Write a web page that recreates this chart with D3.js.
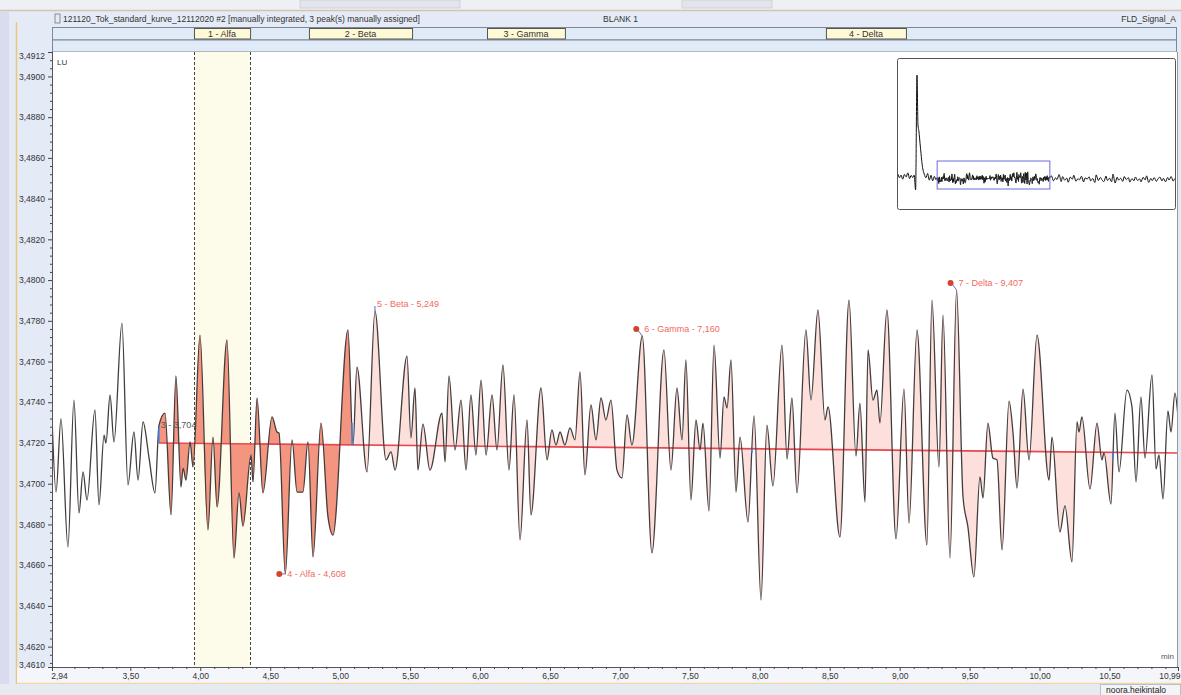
<!DOCTYPE html>
<html>
<head>
<meta charset="utf-8">
<script src="https://cdn.jsdelivr.net/npm/d3@7"></script>
<style>
  html, body { margin: 0; padding: 0; background: #e4ebf6; }
  svg { display: block; font-family: "Liberation Sans", Arial, sans-serif; }
</style>
</head>
<body>
<svg id="chart" width="1181" height="695"></svg>
<script>
// ---- Chromatogram trace (retention time in min, signal in LU), turning points of the FLD signal
const timeMin = [
  2.940, 2.969, 3.004, 3.054, 3.097, 3.133, 3.162, 3.190, 3.247, 3.276,
  3.312, 3.326, 3.355, 3.383, 3.440, 3.483, 3.526, 3.555, 3.591, 3.633,
  3.676, 3.705, 3.748, 3.791, 3.826, 3.862, 3.877, 3.898, 3.927, 3.948,
  3.998, 4.055, 4.091, 4.120, 4.191, 4.241, 4.277, 4.305, 4.363, 4.377,
  4.406, 4.448, 4.513, 4.549, 4.563, 4.608, 4.656, 4.692, 4.734, 4.770,
  4.806, 4.863, 4.913, 4.949, 5.056, 5.092, 5.120, 5.192, 5.249, 5.328,
  5.364, 5.392, 5.478, 5.506, 5.535, 5.556, 5.592, 5.642, 5.728, 5.750,
  5.778, 5.821, 5.864, 5.900, 5.935, 5.971, 6.007, 6.043, 6.086, 6.121,
  6.164, 6.207, 6.243, 6.286, 6.336, 6.364, 6.436, 6.479, 6.514, 6.543,
  6.572, 6.607, 6.643, 6.679, 6.715, 6.750, 6.793, 6.829, 6.865, 6.900,
  6.936, 6.979, 7.015, 7.051, 7.086, 7.160, 7.229, 7.315, 7.365, 7.408,
  7.444, 7.472, 7.508, 7.544, 7.573, 7.594, 7.637, 7.673, 7.716, 7.744,
  7.766, 7.794, 7.830, 7.859, 7.916, 7.959, 8.009, 8.051, 8.094, 8.159,
  8.195, 8.230, 8.266, 8.330, 8.366, 8.416, 8.466, 8.488, 8.573, 8.638,
  8.688, 8.716, 8.752, 8.774, 8.809, 8.838, 8.859, 8.909, 8.974, 9.031,
  9.067, 9.124, 9.195, 9.231, 9.281, 9.310, 9.360, 9.407, 9.453, 9.488,
  9.531, 9.574, 9.596, 9.631, 9.667, 9.696, 9.732, 9.782, 9.810, 9.839,
  9.882, 9.925, 9.982, 10.068, 10.089, 10.146, 10.182, 10.232, 10.268, 10.282,
  10.303, 10.361, 10.411, 10.446, 10.461, 10.511, 10.539, 10.568, 10.625, 10.661,
  10.690, 10.725, 10.754, 10.804, 10.833, 10.854, 10.883, 10.918, 10.940, 10.968,
  10.990
];
const signalLU = [
  3.47328, 3.46959, 3.47318, 3.46689, 3.47411, 3.46856, 3.47058, 3.46920, 3.47362, 3.46896,
  3.47239, 3.47200, 3.47436, 3.47205, 3.47789, 3.46994, 3.47254, 3.47018, 3.47303, 3.47131,
  3.46955, 3.47288, 3.47347, 3.46847, 3.47529, 3.46984, 3.47077, 3.47018, 3.47205, 3.47082,
  3.47730, 3.46773, 3.47229, 3.46886, 3.47706, 3.46635, 3.46955, 3.46792, 3.47141, 3.47009,
  3.47421, 3.46955, 3.47328, 3.47254, 3.47249, 3.46557, 3.47215, 3.46959, 3.46959, 3.47205,
  3.46640, 3.47298, 3.46837, 3.46748, 3.47755, 3.47190, 3.47573, 3.47058, 3.47848, 3.47117,
  3.47156, 3.47067, 3.47627, 3.47225, 3.47470, 3.47067, 3.47293, 3.47067, 3.47347, 3.47107,
  3.47529, 3.47166, 3.47411, 3.47067, 3.47436, 3.47141, 3.47509, 3.47141, 3.47436, 3.47166,
  3.47583, 3.47067, 3.47436, 3.46724, 3.47313, 3.46847, 3.47470, 3.47117, 3.47264, 3.47190,
  3.47254, 3.47190, 3.47274, 3.47215, 3.47549, 3.47043, 3.47387, 3.47215, 3.47421, 3.47313,
  3.47411, 3.47067, 3.47028, 3.47338, 3.47190, 3.47725, 3.46660, 3.47657, 3.47067, 3.47470,
  3.47215, 3.47608, 3.46920, 3.47313, 3.47166, 3.47298, 3.46866, 3.47681, 3.47126, 3.47426,
  3.47372, 3.47608, 3.46959, 3.47229, 3.46812, 3.47333, 3.46429, 3.47288, 3.46989, 3.47681,
  3.47121, 3.47421, 3.46955, 3.47755, 3.47411, 3.47853, 3.47313, 3.47377, 3.46738, 3.47902,
  3.47136, 3.47396, 3.46910, 3.47657, 3.47411, 3.47460, 3.47298, 3.47853, 3.46729, 3.47465,
  3.46807, 3.47755, 3.46699, 3.47902, 3.47082, 3.47828, 3.46635, 3.47951, 3.46935, 3.46788,
  3.46542, 3.47033, 3.46930, 3.47298, 3.47126, 3.47117, 3.46675, 3.47406, 3.47254, 3.46979,
  3.47465, 3.47117, 3.47730, 3.47018, 3.47229, 3.46763, 3.46891, 3.46616, 3.47303, 3.47254,
  3.47328, 3.46974, 3.47298, 3.47117, 3.47151, 3.46900, 3.47347, 3.47058, 3.47460, 3.47377,
  3.47009, 3.47426, 3.47126, 3.47534, 3.47072, 3.47141, 3.46925, 3.47357, 3.47254, 3.47445,
  3.47328
];

// ---- Full-run overview (inset): before and after the zoomed window
const preTime = [0.00, 0.12, 0.25, 0.36, 0.48, 0.60, 0.72, 0.85, 0.97, 1.08, 1.20, 1.30, 1.40, 1.50, 1.57, 1.63, 1.75, 1.90, 2.02, 2.14, 2.26, 2.38, 2.50, 2.62, 2.74, 2.85];
const preSignal = [3.4745, 3.4772, 3.4731, 3.4760, 3.4716, 3.4768, 3.4740, 3.4784, 3.4722, 3.4757, 3.4733, 3.4760, 3.4600, 3.5840, 3.5300, 3.5240, 3.5050, 3.4840, 3.4770, 3.4732, 3.4778, 3.4705, 3.4758, 3.4699, 3.4746, 3.4712];
const postTime = [11.1, 11.25, 11.4, 11.5, 11.65, 11.8, 11.9, 12.05, 12.2, 12.3, 12.45, 12.6, 12.7, 12.85, 13.0, 13.1, 13.25, 13.4, 13.5, 13.65, 13.8, 13.9, 14.05, 14.2, 14.3, 14.45, 14.6, 14.7, 14.85, 15.0, 15.1, 15.25, 15.4, 15.5, 15.65, 15.8, 15.9, 16.05, 16.2, 16.3, 16.45, 16.6, 16.7, 16.85, 17.0, 17.1, 17.25, 17.4, 17.5, 17.65, 17.8, 17.9, 18.05, 18.2, 18.3, 18.45, 18.6, 18.7, 18.85, 19.0, 19.1, 19.25, 19.4, 19.5, 19.65, 19.8, 19.9, 20.0];
const postSignal = [
  3.4752, 3.4698, 3.4731, 3.4712, 3.4766, 3.4690, 3.4744, 3.4705, 3.4728, 3.4683,
  3.4739, 3.4716, 3.4758, 3.4694, 3.4722, 3.4709, 3.4747, 3.4686, 3.4730, 3.4718,
  3.4741, 3.4697, 3.4724, 3.4680, 3.4762, 3.4701, 3.4735, 3.4712, 3.4690, 3.4749,
  3.4702, 3.4727, 3.4688, 3.4771, 3.4675, 3.4738, 3.4706, 3.4726, 3.4692, 3.4745,
  3.4711, 3.4733, 3.4684, 3.4722, 3.4699, 3.4740, 3.4703, 3.4719, 3.4687, 3.4736,
  3.4708, 3.4752, 3.4681, 3.4724, 3.4700, 3.4733, 3.4692, 3.4716, 3.4739, 3.4697,
  3.4725, 3.4688, 3.4734, 3.4706, 3.4744, 3.4695, 3.4718, 3.4712
];

// ---- Peaks, integration and named windows
const peakNames = ["3", "4 - Alfa", "5 - Beta", "6 - Gamma", "7 - Delta"];
const peakRT = [3.704, 4.608, 5.249, 7.160, 9.407];
const windowNames = ["1 - Alfa", "2 - Beta", "3 - Gamma", "4 - Delta"];
const windowStart = [3.955, 4.777, 6.050, 8.473];
const windowEnd = [4.356, 5.514, 6.607, 9.045];
const baselineTime = [3.704, 10.99];
const baselineLU = [3.4720, 3.47151];
const boundaryTime = [3.704, 5.085, 7.944, 10.525];

// ---- Axis ticks
const yMajorTicks = [3.4610, 3.4620, 3.4640, 3.4660, 3.4680, 3.4700, 3.4720, 3.4740, 3.4760, 3.4780, 3.4800, 3.4820, 3.4840, 3.4860, 3.4880, 3.4900, 3.4912];
const xMajorTicks = [2.94, 3.5, 4.0, 4.5, 5.0, 5.5, 6.0, 6.5, 7.0, 7.5, 8.0, 8.5, 9.0, 9.5, 10.0, 10.5, 10.99];

const headerTitle = "121120_Tok_standard_kurve_12112020 #2 [manually integrated, 3 peak(s) manually assigned]";
const sampleName = "BLANK 1";
const signalName = "FLD_Signal_A";
const userName = "noora.heikintalo";

// ---------------------------------------------------------------------------
const svg = d3.select("#chart");
const W = 1181, H = 695;
const P = { left: 52, right: 1178, top: 52, bottom: 667 };

const x = d3.scaleLinear().domain([2.94, 10.99]).range([P.left, P.right]);
const y = d3.scaleLinear().domain([3.4610, 3.4912]).range([P.bottom, P.top]);
const base = d3.scaleLinear().domain(baselineTime).range(baselineLU);
const comma = (v, d) => v.toFixed(d).replace(".", ",");

const trace = timeMin.map((t, i) => ({ t, v: signalLU[i] }));

// Application frame
svg.append("rect").attr("width", W).attr("height", H).attr("fill", "#e4ebf6");
svg.append("rect").attr("x", 0).attr("y", 0).attr("width", W).attr("height", 10).attr("fill", "#eef0f3");
svg.append("rect").attr("x", 300).attr("y", 0).attr("width", 160).attr("height", 8).attr("fill", "#e2e5ea").attr("stroke", "#cfd3da");
svg.append("rect").attr("x", 682).attr("y", 0).attr("width", 90).attr("height", 8).attr("fill", "#e2e5ea").attr("stroke", "#cfd3da");
svg.append("line").attr("x1", 0).attr("x2", W).attr("y1", 10.5).attr("y2", 10.5).attr("stroke", "#d2c3b2").attr("stroke-width", 1.5);
svg.append("rect").attr("x", 0).attr("y", 11).attr("width", 9).attr("height", 674).attr("fill", "#d9dcef");
svg.append("line").attr("x1", 16.5).attr("x2", 16.5).attr("y1", 22).attr("y2", 684).attr("stroke", "#e9c67c").attr("stroke-width", 1.5);
svg.append("rect").attr("x", 17).attr("y", 667).attr("width", W - 17).attr("height", 16).attr("fill", "#f4f6fb");
svg.append("line").attr("x1", 17).attr("x2", W).attr("y1", 683.5).attr("y2", 683.5).attr("stroke", "#eed9a0").attr("stroke-width", 1.5);
svg.append("rect").attr("x", 0).attr("y", 684).attr("width", W).attr("height", 11).attr("fill", "#e7eaf0");

// Header line
svg.append("rect").attr("x", 55).attr("y", 14).attr("width", 5).attr("height", 9).attr("fill", "none").attr("stroke", "#777").attr("stroke-width", 0.8);
svg.append("text").attr("x", 63).attr("y", 22).attr("font-size", 8.5).attr("fill", "#333").text(headerTitle);
svg.append("text").attr("x", 603).attr("y", 22).attr("font-size", 8.5).attr("fill", "#333").text(sampleName);
svg.append("text").attr("x", 1176).attr("y", 22).attr("font-size", 8.5).attr("fill", "#333").attr("text-anchor", "end").text(signalName);

// Peak window bands
svg.append("rect").attr("x", P.left + 0.5).attr("y", 27.5).attr("width", 1124).attr("height", 12.5).attr("fill", "#e1eaf7").attr("stroke", "#7c8797");
svg.append("rect").attr("x", P.left + 0.5).attr("y", 40).attr("width", 1124).attr("height", 12).attr("fill", "#e1eaf7").attr("stroke", "#7c8797");
windowNames.forEach((name, i) => {
  const x0 = x(windowStart[i]), x1 = x(windowEnd[i]);
  svg.append("rect").attr("x", x0 + 0.5).attr("y", 28.5).attr("width", x1 - x0).attr("height", 10.5)
    .attr("fill", "#fffad6").attr("stroke", "#555").attr("stroke-width", 1);
  svg.append("text").attr("x", (x0 + x1) / 2).attr("y", 37).attr("text-anchor", "middle")
    .attr("font-size", 9).attr("fill", "#333").text(name);
});

// Plot area
svg.append("rect").attr("x", P.left).attr("y", P.top).attr("width", P.right - P.left).attr("height", P.bottom - P.top).attr("fill", "#ffffff");
svg.append("clipPath").attr("id", "plotClip").append("rect")
  .attr("x", P.left).attr("y", P.top).attr("width", P.right - P.left).attr("height", P.bottom - P.top);
const plot = svg.append("g").attr("clip-path", "url(#plotClip)");

// Alfa window highlight
plot.append("rect").attr("x", x(windowStart[0])).attr("y", P.top).attr("width", x(windowEnd[0]) - x(windowStart[0]))
  .attr("height", P.bottom - P.top).attr("fill", "#fdfbea");
[windowStart[0], windowEnd[0]].forEach(t => {
  plot.append("line").attr("x1", Math.round(x(t)) + 0.5).attr("x2", Math.round(x(t)) + 0.5).attr("y1", P.top).attr("y2", P.bottom)
    .attr("stroke", "#444").attr("stroke-width", 1).attr("stroke-dasharray", "3,2");
});

// Integrated areas between trace and baseline
const areaGen = d3.area().curve(d3.curveMonotoneX)
  .x(d => x(d.t)).y0(d => y(base(d.t))).y1(d => y(d.v));
const fills = [
  { id: "fillA", t0: boundaryTime[0], t1: boundaryTime[1], color: "#f4957f" },
  { id: "fillB", t0: boundaryTime[1], t1: boundaryTime[3], color: "#fde0db" }
];
fills.forEach(f => {
  svg.append("clipPath").attr("id", f.id).append("rect")
    .attr("x", x(f.t0)).attr("y", P.top).attr("width", x(f.t1) - x(f.t0)).attr("height", P.bottom - P.top);
  plot.append("g").attr("clip-path", `url(#${f.id})`).append("path")
    .datum(trace).attr("d", areaGen).attr("fill", f.color);
});

// Baseline
plot.append("line")
  .attr("x1", x(baselineTime[0])).attr("y1", y(baselineLU[0]))
  .attr("x2", x(baselineTime[1])).attr("y2", y(baselineLU[1]))
  .attr("stroke", "#e8474f").attr("stroke-width", 1.6);

// Signal trace
const lineGen = d3.line().curve(d3.curveMonotoneX).x(d => x(d.t)).y(d => y(d.v));
plot.append("path").datum(trace).attr("d", lineGen)
  .attr("fill", "none").attr("stroke", "#433d3d").attr("stroke-width", 1.3).attr("stroke-linejoin", "round");

// Integration boundary marks
const signalAt = t => {
  const i = d3.bisectLeft(timeMin, t);
  const a = trace[Math.max(0, i - 1)], b = trace[Math.min(trace.length - 1, i)];
  return a.t === b.t ? a.v : a.v + (b.v - a.v) * (t - a.t) / (b.t - a.t);
};
boundaryTime.forEach(t => {
  plot.append("line").attr("x1", x(t)).attr("x2", x(t))
    .attr("y1", y(base(t))).attr("y2", y(signalAt(t)))
    .attr("stroke", "#3f7ee8").attr("stroke-width", 1.5);
});

// Peak labels
peakNames.forEach((name, i) => {
  const rt = peakRT[i];
  const idx = d3.minIndex(timeMin, t => Math.abs(t - rt));
  const px = x(rt), py = y(signalLU[idx]);
  const isMin = signalLU[idx] < base(rt);
  const ly = isMin ? py : py - 7;
  const label = `${name} - ${comma(rt, 3)}`;
  if (i === 0) {
    plot.append("text").attr("x", px + 2).attr("y", py + 3).attr("font-size", 9).attr("fill", "#555").text(label);
    return;
  }
  if (i === 2) {
    plot.append("line").attr("x1", px).attr("x2", px).attr("y1", py).attr("y2", py - 5).attr("stroke", "#4a6fd8").attr("stroke-width", 1);
  } else {
    plot.append("line").attr("x1", px - 5).attr("y1", ly).attr("x2", px).attr("y2", py).attr("stroke", "#7a6fb0").attr("stroke-width", 1);
    plot.append("circle").attr("cx", px - 6).attr("cy", ly).attr("r", 3).attr("fill", "#d4432f");
  }
  plot.append("text").attr("x", px + 2).attr("y", ly + 3).attr("font-size", 9).attr("fill", "#ef6a5f").text(label);
});

// Unit labels
svg.append("text").attr("x", 57).attr("y", 65).attr("font-size", 8).attr("fill", "#333").text("LU");
svg.append("text").attr("x", 1174).attr("y", 659).attr("font-size", 8).attr("fill", "#555").attr("text-anchor", "end").text("min");

// Plot frame
svg.append("line").attr("x1", P.left + 0.5).attr("x2", P.left + 0.5).attr("y1", P.top).attr("y2", P.bottom).attr("stroke", "#555");
svg.append("line").attr("x1", P.left).attr("x2", P.right).attr("y1", P.bottom + 0.5).attr("y2", P.bottom + 0.5).attr("stroke", "#555");
svg.append("line").attr("x1", P.right - 0.5).attr("x2", P.right - 0.5).attr("y1", P.top).attr("y2", P.bottom).attr("stroke", "#999");

// Y axis
const yMinor = d3.range(8653, 8729).map(k => k * 0.0004).filter(v => Math.abs(v / 0.002 - Math.round(v / 0.002)) > 1e-6);
svg.append("g").attr("transform", `translate(${P.left},0)`)
  .call(d3.axisLeft(y).tickValues(yMinor).tickSize(2).tickFormat(""))
  .call(g => g.select(".domain").remove())
  .call(g => g.selectAll("line").attr("stroke", "#444"));
const yAxis = svg.append("g").attr("transform", `translate(${P.left},0)`)
  .call(d3.axisLeft(y).tickValues(yMajorTicks).tickSize(4).tickPadding(3).tickFormat(v => comma(v, 4)));
yAxis.select(".domain").remove();
yAxis.selectAll("line").attr("stroke", "#444");
yAxis.selectAll("text").attr("font-size", 8.5).attr("fill", "#333").attr("font-family", "Liberation Sans, Arial, sans-serif")
  .attr("dy", v => v === 3.4912 ? "0.75em" : v === 3.4610 ? "0.1em" : "0.32em");

// X axis
const isHalf = v => Math.abs(v * 2 - Math.round(v * 2)) < 1e-6;
const xMinor = d3.range(30, 110).map(k => k / 10).filter(v => !isHalf(v));
svg.append("g").attr("transform", `translate(0,${P.bottom})`)
  .call(d3.axisBottom(x).tickValues(xMinor).tickSize(2).tickFormat(""))
  .call(g => g.select(".domain").remove())
  .call(g => g.selectAll("line").attr("stroke", "#444"));
const xAxis = svg.append("g").attr("transform", `translate(0,${P.bottom})`)
  .call(d3.axisBottom(x).tickValues(xMajorTicks).tickSize(4).tickPadding(2).tickFormat(v => comma(v, 2)));
xAxis.select(".domain").remove();
xAxis.selectAll("line").attr("stroke", "#444");
xAxis.selectAll("text").attr("font-size", 8.5).attr("fill", "#333").attr("font-family", "Liberation Sans, Arial, sans-serif")
  .attr("text-anchor", v => v === 10.99 ? "end" : "middle")
  .attr("dx", v => v === 2.94 ? "7" : v === 10.99 ? "2" : "0");

// Inset: full run overview
const ix = d3.scaleLinear().domain([0, 20]).range([896, 1176]);
const iy = d3.scaleLinear().domain([3.4405, 3.6002]).range([208, 60]);
const inset = svg.append("g");
inset.append("rect").attr("x", 897.5).attr("y", 58.5).attr("width", 278).attr("height", 151)
  .attr("rx", 2).attr("fill", "#fff").attr("stroke", "#555").attr("stroke-width", 1);
svg.append("clipPath").attr("id", "insetClip").append("rect").attr("x", 898).attr("y", 59).attr("width", 277).attr("height", 150);
const overview = preTime.map((t, i) => ({ t, v: preSignal[i] }))
  .concat(trace)
  .concat(postTime.map((t, i) => ({ t, v: postSignal[i] })));
inset.append("path").datum(overview).attr("clip-path", "url(#insetClip)")
  .attr("d", d3.line().curve(d3.curveMonotoneX).x(d => ix(d.t)).y(d => iy(d.v)))
  .attr("fill", "none").attr("stroke", "#111").attr("stroke-width", 1);
inset.append("rect").attr("x", ix(2.94)).attr("y", iy(3.4912)).attr("width", ix(10.99) - ix(2.94)).attr("height", iy(3.4610) - iy(3.4912))
  .attr("fill", "none").attr("stroke", "#6a6ae0").attr("stroke-width", 1);

// User name box
svg.append("rect").attr("x", 1100.5).attr("y", 684.5).attr("width", 80).attr("height", 11).attr("fill", "#f3f4f7").attr("stroke", "#b9bec8");
svg.append("text").attr("x", 1106).attr("y", 693).attr("font-size", 8.5).attr("fill", "#222").text(userName);
</script>
</body>
</html>
